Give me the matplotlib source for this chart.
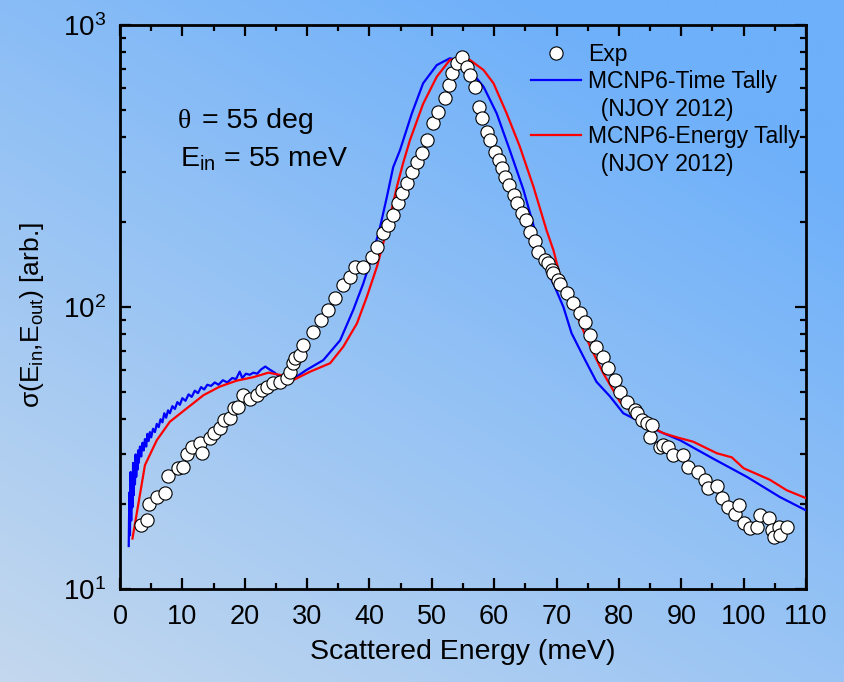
import numpy as np
import matplotlib
matplotlib.use("Agg")
import matplotlib.pyplot as plt
from matplotlib.lines import Line2D
from matplotlib.ticker import LogLocator, MultipleLocator, NullFormatter

plt.rcParams['font.family'] = ['Liberation Sans', 'DejaVu Sans']
plt.rcParams['mathtext.fontset'] = 'custom'
plt.rcParams['mathtext.rm'] = 'Liberation Sans'
plt.rcParams['mathtext.it'] = 'Liberation Sans:italic'
plt.rcParams['mathtext.bf'] = 'Liberation Sans:bold'

# ---------------- data ----------------
exp_E = [3.3, 4.3, 4.7, 5.9, 7.2, 7.7, 9.3, 10.1, 10.7, 11.5, 12.8, 13.1, 14.4, 15.0, 16.0,
         16.6, 17.6, 18.2, 19.0, 19.8, 20.8, 21.9, 22.7, 23.5, 24.6, 25.7, 26.7, 27.3, 27.8,
         28.1, 28.9, 29.4, 31.0, 32.3, 33.4, 34.5, 35.8, 36.9, 37.7, 39.0, 40.4, 41.2, 42.2,
         43.0, 43.8, 44.6, 45.2, 46.0, 46.8, 47.6, 48.4, 49.2, 50.2, 51.0, 52.1, 52.8, 53.2,
         54.0, 54.8, 55.6, 56.1, 56.9, 57.5, 58.0, 58.8, 59.3, 60.1, 60.7, 61.2, 61.7, 62.3,
         63.1, 63.6, 64.4, 65.1, 65.7, 66.5, 67.1, 68.2, 68.7, 69.2, 69.5, 70.3, 70.6, 71.6,
         72.7, 73.8, 74.6, 75.4, 76.4, 77.5, 78.3, 79.4, 80.2, 81.3, 82.6, 82.9, 83.7, 84.5,
         85.0, 85.3, 86.6, 87.1, 87.9, 88.7, 90.3, 91.1, 92.7, 93.8, 94.3, 95.7, 96.5, 97.5,
         98.6, 99.2, 100.0, 101.0, 102.1, 102.6, 104.0, 104.5, 104.8, 105.6, 105.8, 106.9]
exp_I = [16.9, 17.5, 20.0, 21.2, 21.9, 25.2, 26.9, 27.1, 30.1, 32.0, 32.9, 30.3, 34.3, 35.7, 37.2,
         39.7, 40.4, 43.8, 44.3, 48.7, 47.2, 48.7, 50.8, 52.2, 53.7, 54.3, 56.0, 59.0, 63.3,
         65.8, 67.6, 73.3, 81.7, 89.9, 97.6, 107.4, 119.7, 128.0, 138.9, 138.9, 150.7, 163.6, 182.4,
         195.3, 211.9, 233.2, 253.0, 274.5, 302.2, 327.5, 350.7, 390.8, 447.9, 493.0, 549.6, 612.6, 674.3,
         731.0, 772.0, 711.0, 665.0, 604.0, 513.0, 467.0, 418.0, 391.0, 355.0, 332.0, 310.0, 290.0, 271.0,
         250.0, 233.0, 215.0, 204.0, 185.0, 171.0, 157.0, 147.0, 143.0, 135.0, 132.0, 125.0, 121.0, 112.0,
         103.0, 95.0, 88.7, 79.6, 72.3, 66.7, 60.7, 55.1, 50.1, 46.2, 43.1, 42.0, 39.7, 38.7,
         34.7, 38.2, 32.0, 32.4, 32.0, 29.9, 29.9, 27.0, 26.1, 24.4, 22.8, 23.1, 21.0, 19.6,
         18.5, 19.9, 17.1, 16.4, 16.6, 18.3, 17.8, 16.2, 15.3, 16.6, 15.5, 16.6]

time_E = [1.4, 1.5, 1.6, 1.7, 1.8, 1.9, 2.0, 2.1, 2.2, 2.3, 2.4, 2.5, 2.6, 2.7, 2.8, 2.9, 3.0,
          3.2, 3.4, 3.6, 3.8, 4.0, 4.2, 4.4, 4.6, 4.8, 5.0, 5.3, 5.6, 5.9, 6.2, 6.5, 6.8, 7.1,
          7.4, 7.7, 8.0, 8.4, 8.8, 9.2, 9.6, 10.0, 10.5, 11.0, 11.5, 12.0, 12.5, 13.0, 13.5,
          14.0, 14.6, 15.2, 15.8, 16.5, 17.2, 18.0, 18.6, 19.2, 19.6, 20.2, 20.8, 21.4, 22.0,
          22.6, 23.3, 24.0, 24.8, 25.6, 26.5, 27.5, 28.5, 29.9, 32.6, 35.3, 37.4, 39.0, 40.4,
          41.7, 42.8, 43.8, 44.9, 46.8, 48.6, 50.8, 52.9, 54.0, 56.1, 58.3, 60.4, 62.5, 64.7,
          66.8, 68.4, 69.5, 71.1, 72.4, 74.3, 76.4, 78.6, 80.7, 82.9, 86.6, 89.8, 95.1, 100.5,
          105.8, 110.0]
time_I = [14.2, 22.0, 15.5, 26.0, 17.5, 25.0, 19.5, 28.0, 21.5, 27.0, 23.5, 30.0, 25.0, 29.0, 26.5,
          31.0, 28.0, 32.0, 29.5, 33.0, 31.0, 34.0, 32.0, 35.5, 33.5, 36.0, 34.5, 37.0, 36.0, 38.5,
          37.5, 40.0, 39.0, 42.0, 40.5, 43.0, 42.0, 44.5, 43.5, 46.0, 45.0, 47.5, 46.5, 49.0, 48.0,
          50.5, 49.5, 52.0, 51.0, 53.0, 52.5, 54.0, 53.0, 55.0, 54.0, 56.0, 55.5, 59.0, 56.0, 58.0,
          57.5, 58.5, 58.0, 60.0, 61.5, 60.0, 58.5, 56.5, 55.5, 56.0, 57.0, 59.8, 64.8, 76.2, 97.6,
          121.0, 150.7, 192.0, 246.0, 313.0, 360.0, 486.0, 621.0, 721.0, 762.0, 752.0, 692.0, 604.0,
          486.0, 360.0, 260.0, 178.0, 135.0, 121.0, 100.0, 80.8, 66.7, 54.3, 48.1, 42.0, 39.7,
          36.1, 33.7, 29.0, 25.0, 21.2, 19.0]

energy_E = [2.0, 4.0, 5.9, 8.0, 10.7, 13.4, 16.0, 18.7, 21.4, 23.8, 25.7, 27.8, 30.5, 33.7,
            35.8, 38.0, 39.6, 41.2, 42.2, 43.3, 44.4, 45.4, 46.5, 48.6, 50.8, 52.9, 54.5, 56.1,
            58.3, 59.9, 62.0, 64.1, 66.3, 68.4, 69.5, 70.6, 72.2, 73.8, 75.4, 77.5, 80.2, 82.9,
            84.8, 87.1, 89.5, 91.9, 95.7, 98.1, 100.0, 104.2, 106.9, 110.0]
energy_I = [15.1, 27.5, 33.7, 39.2, 43.7, 48.7, 52.2, 54.8, 56.4, 58.5, 57.4, 55.1, 59.0, 63.2,
            72.3, 87.5, 109.0, 139.0, 168.0, 209.0, 267.0, 324.0, 391.0, 525.0, 656.0, 752.0, 762.0,
            752.0, 692.0, 621.0, 486.0, 371.0, 267.0, 187.0, 159.0, 128.0, 106.0, 87.5, 72.3, 58.2,
            46.0, 40.8, 38.0, 35.7, 34.4, 33.3, 30.3, 29.3, 26.8, 24.4, 22.4, 21.0]

x_ticks = [0, 10, 20, 30, 40, 50, 60, 70, 80, 90, 100, 110]

# ---------------- figure ----------------
W, H = 8.44, 6.82
fig = plt.figure(figsize=(W, H), dpi=100)

# gradient background
bg = fig.add_axes([0, 0, 1, 1], zorder=-10)
nx, ny = 200, 160
gx = np.linspace(0, 1, nx)[None, :]
gy = np.linspace(1, 0, ny)[:, None]
t = np.clip(0.55 * gx + 0.75 * gy, 0, 1.1) / 1.1
c0 = np.array([196, 216, 238]) / 255.0
c1 = np.array([110, 176, 250]) / 255.0
img = c0[None, None, :] * (1 - t[..., None]) + c1[None, None, :] * t[..., None]
bg.imshow(img, aspect='auto', extent=[0, 1, 0, 1], interpolation='bilinear')
bg.set_axis_off()

ax = fig.add_axes([120 / 844, 1 - 589 / 682, (806 - 120) / 844, (589 - 25) / 682])
ax.patch.set_alpha(0)

ax.plot(time_E, time_I, color='#0000ff', lw=1.6, zorder=3, label='MCNP6-Time Tally')
ax.plot(energy_E, energy_I, color='#ff0000', lw=1.6, zorder=3, label='MCNP6-Energy Tally')
ax.plot(exp_E, exp_I, 'o', ms=9.5, mfc='white', mec='black', mew=0.8, zorder=4, label='Exp')

ax.set_yscale('log')
ax.set_xlim(0, 110)
ax.set_ylim(10, 1000)
ax.set_xticks(x_ticks)
ax.xaxis.set_minor_locator(MultipleLocator(5))
ax.yaxis.set_minor_locator(LogLocator(base=10, subs=np.arange(2, 10)))
ax.yaxis.set_minor_formatter(NullFormatter())

for s in ax.spines.values():
    s.set_linewidth(2.0)
ax.tick_params(which='both', direction='in', top=True, right=True, width=1.6)
ax.tick_params(which='major', length=8)
ax.tick_params(which='minor', length=4.5)
ax.tick_params(axis='x', pad=11, labelsize=19.5)
ax.tick_params(axis='y', pad=10, labelsize=20)

ax.set_xlabel('Scattered Energy (meV)', fontsize=20.5, labelpad=6)
ax.set_ylabel('σ(E$_{\\rm in}$,E$_{\\rm out}$) [arb.]', fontsize=19)
ax.yaxis.set_label_coords(-0.108, 0.485)

# annotations
ax.text(0.084, 0.829, 'θ', transform=ax.transAxes, fontsize=20, family=['Liberation Serif', 'DejaVu Serif'], va='center')
ax.text(0.119, 0.829, '= 55 deg', transform=ax.transAxes, fontsize=20.5, va='center')
ax.text(0.087, 0.762, 'E$_{\\rm in}$ = 55 meV', transform=ax.transAxes, fontsize=20.5, va='center')

# legend
h_exp = Line2D([], [], ls='none', marker='o', ms=9.5, mfc='white', mec='black', mew=0.8)
h_t = Line2D([], [], color='#0000ff', lw=1.6)
h_e = Line2D([], [], color='#ff0000', lw=1.6)
h_n = Line2D([], [], ls='none')
leg = ax.legend([h_exp, h_t, h_n, h_e, h_n],
                ['Exp', 'MCNP6-Time Tally', '  (NJOY 2012)', 'MCNP6-Energy Tally', '  (NJOY 2012)'],
                loc='upper right', bbox_to_anchor=(1.014, 0.997), frameon=False, fontsize=16.5,
                handlelength=2.2, handletextpad=0.3, labelspacing=0.2, borderpad=0.2)

fig.savefig('out.png', dpi=100)
